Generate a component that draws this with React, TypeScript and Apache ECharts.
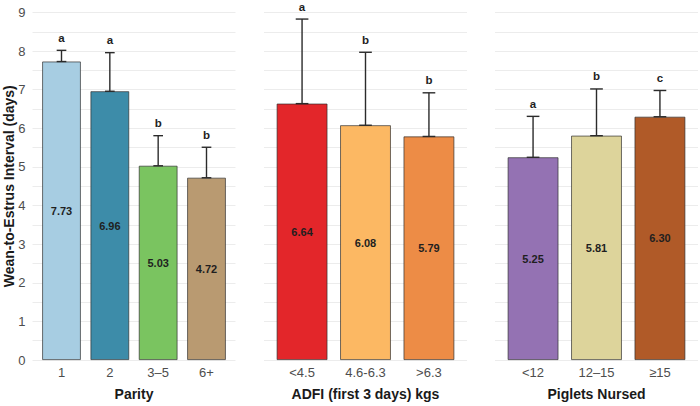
import React, { useEffect, useRef } from "react";
import * as echarts from "echarts";

// Parity panel
const parityCats = ["1", "2", "3–5", "6+"];
const parityMeans = [7.73, 6.96, 5.03, 4.72];
const parityUpper = [8.02, 7.96, 5.81, 5.51];
const parityLetters = ["a", "a", "b", "b"];
const parityColors = ["#a7cde2", "#3d8ca9", "#7ac460", "#b99a71"];

// ADFI panel
const adfiCats = ["<4.5", "4.6-6.3", ">6.3"];
const adfiMeans = [6.64, 6.08, 5.79];
const adfiUpper = [8.83, 7.97, 6.92];
const adfiLetters = ["a", "b", "b"];
const adfiColors = ["#e3262a", "#fcb863", "#ed8c46"];

// Piglets nursed panel
const pigletCats = ["<12", "12–15", "≥15"];
const pigletMeans = [5.25, 5.81, 6.3];
const pigletUpper = [6.31, 7.02, 6.98];
const pigletLetters = ["a", "b", "c"];
const pigletColors = ["#9472b3", "#ddd49b", "#b05a28"];

const yTicks = [0, 1, 2, 3, 4, 5, 6, 7, 8, 9];

const FONT = "Liberation Sans, Arial, sans-serif";

type Panel = {
  cats: string[];
  means: number[];
  upper: number[];
  letters: string[];
  colors: string[];
  title: string;
};

const panels: Panel[] = [
  { cats: parityCats, means: parityMeans, upper: parityUpper, letters: parityLetters, colors: parityColors, title: "Parity" },
  { cats: adfiCats, means: adfiMeans, upper: adfiUpper, letters: adfiLetters, colors: adfiColors, title: "ADFI (first 3 days) kgs" },
  { cats: pigletCats, means: pigletMeans, upper: pigletUpper, letters: pigletLetters, colors: pigletColors, title: "Piglets Nursed" },
];

// facet frames: left edge and width of each panel; discrete axis padded 0.6 band per side
const panelLefts = [32.5, 264, 495];
const panelWidth = 203;
const TOP = 12.5;
const BOTTOM_Y = 360;
const H = 406;

export default function App() {
  const ref = useRef<HTMLDivElement>(null);

  useEffect(() => {
    if (!ref.current) return;
    const chart = echarts.init(ref.current, undefined, { renderer: "svg" });

    const grids: any[] = [];
    const xAxes: any[] = [];
    const yAxes: any[] = [];
    const series: any[] = [];

    const yMax = yTicks[yTicks.length - 1];

    // background grids carrying the horizontal grid lines across the full facet
    panels.forEach((p, i) => {
      grids.push({ left: panelLefts[i], width: panelWidth, top: TOP, bottom: H - BOTTOM_Y, containLabel: false });
      xAxes.push({ type: "value", gridIndex: i, min: 0, max: 1, show: false });
      yAxes.push({
        type: "value",
        gridIndex: i,
        min: yTicks[0],
        max: yMax,
        interval: 1,
        axisLine: { show: false },
        axisTick: { show: false },
        axisLabel: {
          show: i === 0,
          color: "#4d4d4d",
          fontSize: 13,
          fontFamily: FONT,
          margin: 7,
        },
        splitLine: { show: true, lineStyle: { color: "#ececec", width: 1 } },
        minorTick: { show: false, splitNumber: 2 },
        minorSplitLine: { show: true, lineStyle: { color: "#ececec", width: 1 } },
      });
    });

    // bar grids
    panels.forEach((p, i) => {
      const n = p.cats.length;
      const band = panelWidth / (n + 0.2);
      const gi = panels.length + i;
      grids.push({ left: panelLefts[i] + band * 0.1, width: band * n, top: TOP, bottom: H - BOTTOM_Y, containLabel: false });
      xAxes.push({
        type: "category",
        gridIndex: gi,
        data: p.cats,
        axisLine: { show: false },
        axisTick: { show: false },
        axisLabel: { color: "#4d4d4d", fontSize: 13, fontFamily: FONT, margin: 6, interval: 0 },
        name: p.title,
        nameLocation: "middle",
        nameGap: 27,
        nameTextStyle: { color: "#1a1a1a", fontSize: 14, fontWeight: "bold", fontFamily: FONT },
      });
      yAxes.push({ type: "value", gridIndex: gi, min: 0, max: yMax, show: false, splitLine: { show: false } });

      series.push({
        type: "bar",
        xAxisIndex: gi,
        yAxisIndex: gi,
        barWidth: "80%",
        data: p.means.map((v, k) => ({
          value: v,
          itemStyle: { color: p.colors[k], borderColor: "rgba(45,45,45,0.85)", borderWidth: 0.8 },
        })),
        label: {
          show: true,
          position: "inside",
          formatter: (d: any) => Number(d.value).toFixed(2),
          color: "#1f1f1f",
          fontSize: 11,
          fontWeight: "bold",
          fontFamily: FONT,
        },
        z: 2,
      });

      // error bars (mean to mean + SE, capped at both ends) with significance letters
      series.push({
        type: "custom",
        xAxisIndex: gi,
        yAxisIndex: gi,
        clip: false,
        z: 5,
        data: p.means.map((m, k) => [k, m, p.upper[k]]),
        renderItem: (params: any, api: any) => {
          const k = api.value(0);
          const lo = api.coord([k, api.value(1)]);
          const hi = api.coord([k, api.value(2)]);
          const cap = api.size([1, 0])[0] * 0.2;
          const stroke = { stroke: "#2b2b2b", lineWidth: 1.4 };
          return {
            type: "group",
            children: [
              { type: "line", shape: { x1: lo[0], y1: lo[1], x2: hi[0], y2: hi[1] }, style: stroke },
              { type: "line", shape: { x1: hi[0] - cap / 2, y1: hi[1], x2: hi[0] + cap / 2, y2: hi[1] }, style: stroke },
              { type: "line", shape: { x1: lo[0] - cap / 2, y1: lo[1], x2: lo[0] + cap / 2, y2: lo[1] }, style: stroke },
              {
                type: "text",
                x: hi[0],
                y: hi[1] - 6.5,
                style: {
                  text: p.letters[params.dataIndex],
                  align: "center",
                  verticalAlign: "bottom",
                  fill: "#1f1f1f",
                  fontSize: 11.5,
                  fontWeight: "bold",
                  fontFamily: FONT,
                },
              },
            ],
          };
        },
      });
    });

    chart.setOption({
      animation: false,
      backgroundColor: "#ffffff",
      grid: grids,
      xAxis: xAxes,
      yAxis: yAxes,
      series,
      graphic: [
        {
          type: "text",
          x: 9,
          y: (TOP + BOTTOM_Y) / 2,
          rotation: Math.PI / 2,
          style: {
            text: "Wean-to-Estrus Interval (days)",
            align: "center",
            verticalAlign: "middle",
            fill: "#1a1a1a",
            fontSize: 14,
            fontWeight: "bold",
            fontFamily: FONT,
          },
        },
      ],
    });

    return () => chart.dispose();
  }, []);

  return (
    <div
      ref={ref}
      style={{ position: "fixed", left: 0, top: 0, width: 700, height: 406, background: "#fff" }}
    />
  );
}
